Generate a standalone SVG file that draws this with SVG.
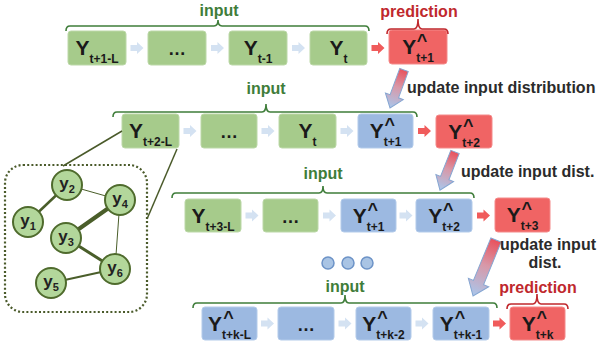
<svg xmlns="http://www.w3.org/2000/svg" width="597" height="349" viewBox="0 0 597 349">
<defs>
<linearGradient id="grad" x1="0" y1="0" x2="0" y2="1">
<stop offset="0" stop-color="#e9515c"/>
<stop offset="0.45" stop-color="#d898a8"/>
<stop offset="1" stop-color="#a9c7ec"/>
</linearGradient>
<path id="sa" d="M-6.5,-3 H0 V-6 L6.5,0 L0,6 V3 H-6.5 Z"/>
</defs>
<style>
.g{fill:#a6cb8b;stroke:#bcd8a8;stroke-width:1}
.b{fill:#9cb9e1;stroke:#b3cbea;stroke-width:1}
.r{fill:#f06464;stroke:#f48a8a;stroke-width:1}
.lbl{font-family:"Liberation Sans",Arial,sans-serif;fill:#1a1a1a;text-anchor:middle}
.Y{font-size:21px;font-weight:bold}
.s{font-size:12px;font-weight:bold}
.hat{font-family:"Liberation Sans",Arial,sans-serif;font-size:18px;font-weight:bold;fill:#1a1a1a;text-anchor:middle}
.dots{font-family:"Liberation Sans",Arial,sans-serif;font-size:18px;font-weight:bold;fill:#1a1a1a;text-anchor:middle}
.la{fill:#d4e2f2}
.ra{fill:#f05b5b}
.brg{fill:none;stroke:#3f7d3a;stroke-width:1.6}
.brr{fill:none;stroke:#c0282d;stroke-width:1.6}
.tg{font-family:"Liberation Sans",Arial,sans-serif;font-size:16px;font-weight:bold;fill:#3f7d3a;text-anchor:middle}
.tr{font-family:"Liberation Sans",Arial,sans-serif;font-size:16px;font-weight:bold;fill:#c0282d;text-anchor:middle}
.tu{font-family:"Liberation Sans",Arial,sans-serif;font-size:16px;font-weight:bold;fill:#2b2b2b}
.big{fill:url(#grad);stroke:#85a6d2;stroke-width:1}
.edge{stroke:#4a5e2a;stroke-linecap:round}
.node{fill:#b3d79b;stroke:#4f6b2d;stroke-width:2}
.nl{font-family:"Liberation Sans",Arial,sans-serif;fill:#222;text-anchor:middle;font-weight:bold}
.ny{font-size:17px}
.ns{font-size:11px}
.dot{fill:#a9c4e4;stroke:#6d93c7;stroke-width:1.5}
</style>

<!-- Row 1 -->
<g id="r1n1"><rect class="g" x="68" y="31" width="58" height="34" rx="3"/><text class="lbl" x="97" y="55"><tspan class="Y">Y</tspan><tspan class="s" dy="8">t+1-L</tspan></text></g>
<g id="r1n2"><rect class="g" x="148" y="31" width="58" height="34" rx="3"/><text class="dots" x="177" y="55">…</text></g>
<g id="r1n3"><rect class="g" x="229" y="31" width="58" height="34" rx="3"/><text class="lbl" x="258" y="55"><tspan class="Y">Y</tspan><tspan class="s" dy="8">t-1</tspan></text></g>
<g id="r1n4"><rect class="g" x="310" y="31" width="57" height="34" rx="3"/><text class="lbl" x="338.5" y="55"><tspan class="Y">Y</tspan><tspan class="s" dy="8">t</tspan></text></g>
<g id="r1n5"><rect class="r" x="389" y="30" width="58" height="34" rx="3"/><text class="lbl" x="418" y="54"><tspan class="Y">Y</tspan><tspan class="s" dy="8">t+1</tspan></text><text class="hat" x="422" y="47">^</text></g>

<!-- Row 2 -->
<g id="r2n1"><rect class="g" x="122" y="114" width="57" height="34" rx="3"/><text class="lbl" x="150.5" y="138"><tspan class="Y">Y</tspan><tspan class="s" dy="8">t+2-L</tspan></text></g>
<g id="r2n2"><rect class="g" x="201" y="114" width="56" height="34" rx="3"/><text class="dots" x="229" y="138">…</text></g>
<g id="r2n3"><rect class="g" x="279" y="114" width="57" height="34" rx="3"/><text class="lbl" x="307.5" y="138"><tspan class="Y">Y</tspan><tspan class="s" dy="8">t</tspan></text></g>
<g id="r2n4"><rect class="b" x="358" y="114" width="55" height="34" rx="3"/><text class="lbl" x="385.5" y="138"><tspan class="Y">Y</tspan><tspan class="s" dy="8">t+1</tspan></text><text class="hat" x="389.7" y="131">^</text></g>
<g id="r2n5"><rect class="r" x="436" y="115" width="56" height="33" rx="3"/><text class="lbl" x="464" y="139"><tspan class="Y">Y</tspan><tspan class="s" dy="8">t+2</tspan></text><text class="hat" x="468.2" y="132">^</text></g>

<!-- Row 3 -->
<g id="r3n1"><rect class="g" x="185" y="199" width="56" height="33" rx="3"/><text class="lbl" x="213" y="223"><tspan class="Y">Y</tspan><tspan class="s" dy="8">t+3-L</tspan></text></g>
<g id="r3n2"><rect class="g" x="263" y="199" width="55" height="33" rx="3"/><text class="dots" x="290.5" y="223">…</text></g>
<g id="r3n3"><rect class="b" x="341" y="199" width="55" height="33" rx="3"/><text class="lbl" x="368.5" y="223"><tspan class="Y">Y</tspan><tspan class="s" dy="8">t+1</tspan></text><text class="hat" x="372.7" y="216">^</text></g>
<g id="r3n4"><rect class="b" x="416" y="199" width="56" height="33" rx="3"/><text class="lbl" x="444" y="223"><tspan class="Y">Y</tspan><tspan class="s" dy="8">t+2</tspan></text><text class="hat" x="448.2" y="216">^</text></g>
<g id="r3n5"><rect class="r" x="495" y="198" width="55" height="34" rx="3"/><text class="lbl" x="522.5" y="222"><tspan class="Y">Y</tspan><tspan class="s" dy="8">t+3</tspan></text><text class="hat" x="526.7" y="215">^</text></g>

<!-- Row 4 -->
<g id="r4n1"><rect class="b" x="202" y="307" width="55" height="33" rx="3"/><text class="lbl" x="229.5" y="331"><tspan class="Y">Y</tspan><tspan class="s" dy="8">t+k-L</tspan></text><text class="hat" x="228.5" y="324">^</text></g>
<g id="r4n2"><rect class="b" x="278" y="307" width="56" height="33" rx="3"/><text class="dots" x="306" y="331">…</text></g>
<g id="r4n3"><rect class="b" x="356" y="307" width="55" height="33" rx="3"/><text class="lbl" x="383.5" y="331"><tspan class="Y">Y</tspan><tspan class="s" dy="8">t+k-2</tspan></text><text class="hat" x="382.4" y="324">^</text></g>
<g id="r4n4"><rect class="b" x="433" y="307" width="56" height="33" rx="3"/><text class="lbl" x="461" y="331"><tspan class="Y">Y</tspan><tspan class="s" dy="8">t+k-1</tspan></text><text class="hat" x="459.9" y="324">^</text></g>
<g id="r4n5"><rect class="r" x="510" y="307" width="55" height="33" rx="3"/><text class="lbl" x="537.5" y="331"><tspan class="Y">Y</tspan><tspan class="s" dy="8">t+k</tspan></text><text class="hat" x="541.7" y="324">^</text></g>

<!-- Graph panel -->
<g id="graph">
<rect x="5" y="165" width="142" height="147" rx="18" fill="none" stroke="#4a5a2a" stroke-width="2.2" stroke-dasharray="2 2.2"/>
<line class="edge" x1="28" y1="222" x2="67" y2="185" stroke-width="2.5"/>
<line class="edge" x1="67" y1="185" x2="120" y2="200" stroke-width="1"/>
<line class="edge" x1="66" y1="238" x2="120" y2="200" stroke-width="4"/>
<line class="edge" x1="66" y1="238" x2="115" y2="269" stroke-width="3"/>
<line class="edge" x1="120" y1="200" x2="115" y2="269" stroke-width="1"/>
<line class="edge" x1="51" y1="283" x2="115" y2="269" stroke-width="2"/>
<g id="y1"><circle class="node" cx="28" cy="222" r="15"/><text class="nl" x="28" y="226"><tspan class="ny">y</tspan><tspan class="ns" dy="4">1</tspan></text></g>
<g id="y2"><circle class="node" cx="67" cy="185" r="15"/><text class="nl" x="67" y="189"><tspan class="ny">y</tspan><tspan class="ns" dy="4">2</tspan></text></g>
<g id="y3"><circle class="node" cx="66" cy="238" r="15"/><text class="nl" x="66" y="242"><tspan class="ny">y</tspan><tspan class="ns" dy="4">3</tspan></text></g>
<g id="y4"><circle class="node" cx="120" cy="200" r="15"/><text class="nl" x="120" y="204"><tspan class="ny">y</tspan><tspan class="ns" dy="4">4</tspan></text></g>
<g id="y5"><circle class="node" cx="51" cy="283" r="15"/><text class="nl" x="51" y="287"><tspan class="ny">y</tspan><tspan class="ns" dy="4">5</tspan></text></g>
<g id="y6"><circle class="node" cx="115" cy="269" r="15"/><text class="nl" x="115" y="273"><tspan class="ny">y</tspan><tspan class="ns" dy="4">6</tspan></text></g>
</g>

<!-- Three dots -->
<g id="ellipsis">
<circle class="dot" cx="328" cy="263" r="6"/>
<circle class="dot" cx="348" cy="263" r="6"/>
<circle class="dot" cx="367" cy="263" r="6"/>
</g>

<!-- Connectors -->
<g id="connectors">
<use href="#sa" class="la" x="137" y="48"/>
<use href="#sa" class="la" x="217.5" y="48"/>
<use href="#sa" class="la" x="298.5" y="48"/>
<use href="#sa" class="ra" x="378" y="48"/>
<use href="#sa" class="la" x="190" y="131"/>
<use href="#sa" class="la" x="268" y="131"/>
<use href="#sa" class="la" x="347" y="131"/>
<use href="#sa" class="ra" x="424.5" y="131"/>
<use href="#sa" class="la" x="252" y="215.5"/>
<use href="#sa" class="la" x="329.5" y="215.5"/>
<use href="#sa" class="la" x="406" y="215.5"/>
<use href="#sa" class="ra" x="483.5" y="215.5"/>
<use href="#sa" class="la" x="267.5" y="323.5"/>
<use href="#sa" class="la" x="345" y="323.5"/>
<use href="#sa" class="la" x="422" y="323.5"/>
<use href="#sa" class="ra" x="499.5" y="323.5"/>

<line x1="122" y1="131" x2="63" y2="166" stroke="#4a5a2a" stroke-width="1.5"/>
<line x1="177" y1="149" x2="147" y2="219" stroke="#4a5a2a" stroke-width="1.5"/>

<path class="big" transform="translate(404,70) rotate(20.2)" d="M-4.5,0 H4.5 V28 H9.5 L0,40.5 L-9.5,28 H-4.5 Z"/>
<path class="big" transform="translate(455,152) rotate(21.5)" d="M-4.5,0 H4.5 V28 H9.5 L0,41 L-9.5,28 H-4.5 Z"/>
<path class="big" transform="translate(496,240) rotate(22.3)" d="M-5.5,0 H5.5 V46 H11 L0,60.5 L-11,46 H-5.5 Z"/>

<path class="brg" d="M66,31 Q66,26 70,26 H214 Q218,26 218,20 Q218,26 222,26 H365 Q369,26 369,31"/>
<path class="brg" d="M113,117 Q113,112 117,112 H262 Q266,112 266,104 Q266,112 270,112 H413 Q417,112 417,117"/>
<path class="brg" d="M172,198 Q172,193 176,193 H319 Q323,193 323,186 Q323,193 327,193 H470 Q474,193 474,198"/>
<path class="brg" d="M193,308 Q193,303 197,303 H341 Q345,303 345,295 Q345,303 349,303 H493 Q497,303 497,308"/>
<path class="brr" d="M387,34 Q387,29 391,29 H414 Q418,29 418,19 Q418,29 422,29 H444 Q448,29 448,34"/>
<path class="brr" d="M507,309 Q507,304 511,304 H533 Q537,304 537,294 Q537,304 541,304 H564 Q568,304 568,309"/>
</g>

<!-- Labels -->
<g id="labels">
<text class="tg" x="219" y="16">input</text>
<text class="tg" x="266" y="94">input</text>
<text class="tg" x="323" y="179">input</text>
<text class="tg" x="345" y="292">input</text>
<text class="tr" x="419" y="17">prediction</text>
<text class="tr" x="538" y="293">prediction</text>
<text class="tu" x="407" y="93">update input distribution</text>
<text class="tu" x="461" y="177">update input dist.</text>
<text class="tu" x="500" y="250">update input</text>
<text class="tu" x="545" y="268" text-anchor="middle">dist.</text>
</g>
</svg>
